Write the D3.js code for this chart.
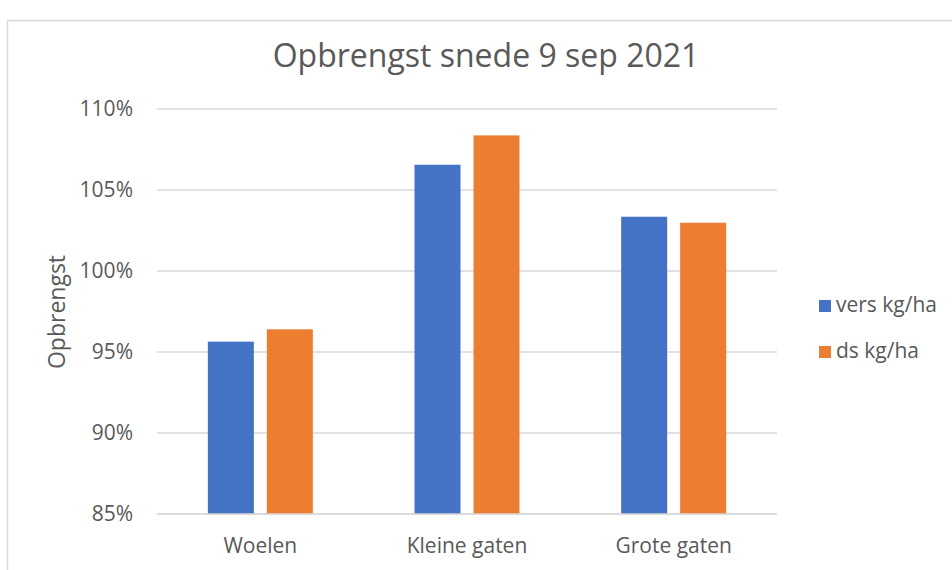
<!DOCTYPE html>
<html>
<head>
<meta charset="utf-8">
<script src="https://cdn.jsdelivr.net/npm/d3@7"></script>
<style>
  body { margin: 0; background: #fff; }
  svg text { font-family: "Open Sans", sans-serif; fill: #595959; }
</style>
</head>
<body>
<svg id="chart" width="952" height="570"></svg>
<script>
var categories = ["Woelen", "Kleine gaten", "Grote gaten"];
var seriesNames = ["vers kg/ha", "ds kg/ha"];
var versValues = [95.64, 106.56, 103.35];
var dsValues = [96.40, 108.37, 102.98];
var yTicks = [85, 90, 95, 100, 105, 110];
var colors = ["#4472C4", "#ED7D31"];

var svg = d3.select('#chart');

// chart frame
svg.append('rect')
    .attr('x', 7.5).attr('y', 20.5)
    .attr('width', 1000).attr('height', 600)
    .attr('fill', '#fff')
    .attr('stroke', '#d9d9d9')
    .attr('stroke-width', 1.5);

var plot = { left: 157, right: 777, top: 109, bottom: 514 };

var x = d3.scaleBand().domain(categories).range([plot.left, plot.right]);
var y = d3.scaleLinear().domain([85, 110]).range([plot.bottom, plot.top]);

// gridlines
svg.append('g')
    .selectAll('line')
    .data(yTicks)
    .enter()
    .append('line')
    .attr('x1', plot.left).attr('x2', plot.right)
    .attr('y1', d => y(d)).attr('y2', d => y(d))
    .attr('stroke', '#d9d9d9')
    .attr('stroke-width', 1.5);

// y tick labels
svg.append('g')
    .selectAll('text')
    .data(yTicks)
    .enter()
    .append('text')
    .attr('x', 133)
    .attr('y', d => y(d))
    .attr('dy', '0.35em')
    .attr('text-anchor', 'end')
    .style('font-size', '21px')
    .text(d => d + '%');

// bars
var barW = 46, gap = 13;
var data = [versValues, dsValues];
data.forEach(function(vals, si) {
    svg.append('g')
        .selectAll('rect')
        .data(vals)
        .enter()
        .append('rect')
        .attr('x', (d, i) => x(categories[i]) + x.bandwidth() / 2 - (barW + gap / 2) + si * (barW + gap))
        .attr('y', d => y(d))
        .attr('width', barW)
        .attr('height', d => y(85) - y(d))
        .attr('fill', colors[si]);
});

// x axis line on top of bars
svg.append('line')
    .attr('x1', plot.left).attr('x2', plot.right)
    .attr('y1', y(85)).attr('y2', y(85))
    .attr('stroke', '#d9d9d9')
    .attr('stroke-width', 1.5);

// category labels
svg.append('g')
    .selectAll('text')
    .data(categories)
    .enter()
    .append('text')
    .attr('x', d => x(d) + x.bandwidth() / 2)
    .attr('y', 546)
    .attr('dy', '0.35em')
    .attr('text-anchor', 'middle')
    .style('font-size', '21px')
    .text(d => d);

// title
svg.append('text')
    .attr('x', 486)
    .attr('y', 56)
    .attr('dy', '0.35em')
    .attr('text-anchor', 'middle')
    .style('font-size', '32px')
    .text('Opbrengst snede 9 sep 2021');

// y axis title
svg.append('text')
    .attr('transform', 'translate(57,312) rotate(-90)')
    .attr('dy', '0.35em')
    .attr('text-anchor', 'middle')
    .style('font-size', '23px')
    .text('Opbrengst');

// legend
var legend = svg.append('g')
    .selectAll('g')
    .data(seriesNames)
    .enter()
    .append('g')
    .attr('transform', (d, i) => 'translate(819,' + (300 + i * 46) + ')');
legend.append('rect')
    .attr('width', 12).attr('height', 12)
    .attr('fill', (d, i) => colors[i]);
legend.append('text')
    .attr('x', 17)
    .attr('y', 5)
    .attr('dy', '0.35em')
    .style('font-size', '21px')
    .text(d => d);
</script>
</body>
</html>
